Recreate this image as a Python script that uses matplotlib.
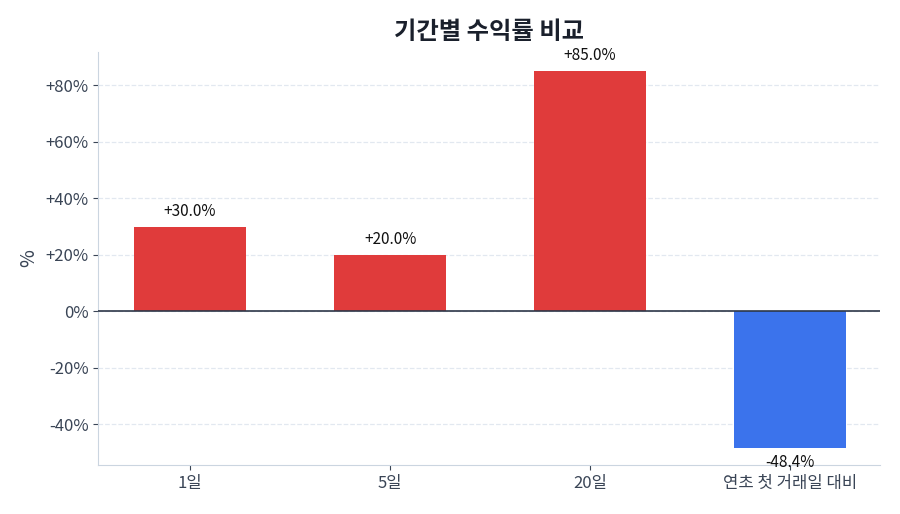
import matplotlib
matplotlib.use('Agg')
import matplotlib.pyplot as plt
from matplotlib.ticker import FuncFormatter

plt.rcParams['font.family'] = ['Noto Sans CJK KR', 'DejaVu Sans']

periods = ['1일', '5일', '20일', '연초 첫 거래일 대비']
returns = [30.0, 20.0, 85.0, -48.4]
colors = ['#e03b3b' if r >= 0 else '#3b73ec' for r in returns]

fig, ax = plt.subplots(figsize=(9, 5.14), dpi=100)
fig.subplots_adjust(left=0.109, right=0.978, top=0.899, bottom=0.095)

x = range(len(periods))
bars = ax.bar(x, returns, width=0.56, color=colors, zorder=2)

for b, r in zip(bars, returns):
    cx = b.get_x() + b.get_width() / 2
    if r >= 0:
        ax.annotate(f'{r:+.1f}%', (cx, r), xytext=(0, 5), textcoords='offset points',
                    ha='center', va='bottom', fontsize=11, color='#111111')
    else:
        ax.annotate(f'{r:.1f}%', (cx, r), xytext=(0, -4), textcoords='offset points',
                    ha='center', va='top', fontsize=11, color='#111111')

ax.axhline(0, color='#2d3748', linewidth=1.2, zorder=3)
ax.set_xticks(list(x))
ax.set_xticklabels(periods)
ax.set_xlim(-0.46, 3.45)
ax.set_ylim(min(returns) * 1.125, max(returns) * 1.08)
ax.yaxis.set_major_formatter(FuncFormatter(lambda v, p: '0%' if v == 0 else f'{v:+.0f}%'))
ax.set_ylabel('%', fontsize=14, color='#3a4556')
ax.set_title('기간별 수익률 비교', fontsize=17.5, fontweight='bold', color='#1a202c', pad=9)

ax.grid(axis='y', linestyle='--', color='#e2e8f0', linewidth=0.9, zorder=0)
for s in ['top', 'right']:
    ax.spines[s].set_visible(False)
for s in ['left', 'bottom']:
    ax.spines[s].set_color('#cbd5e0')
ax.tick_params(colors='#3a4556', labelsize=12)

plt.savefig('out.png')
